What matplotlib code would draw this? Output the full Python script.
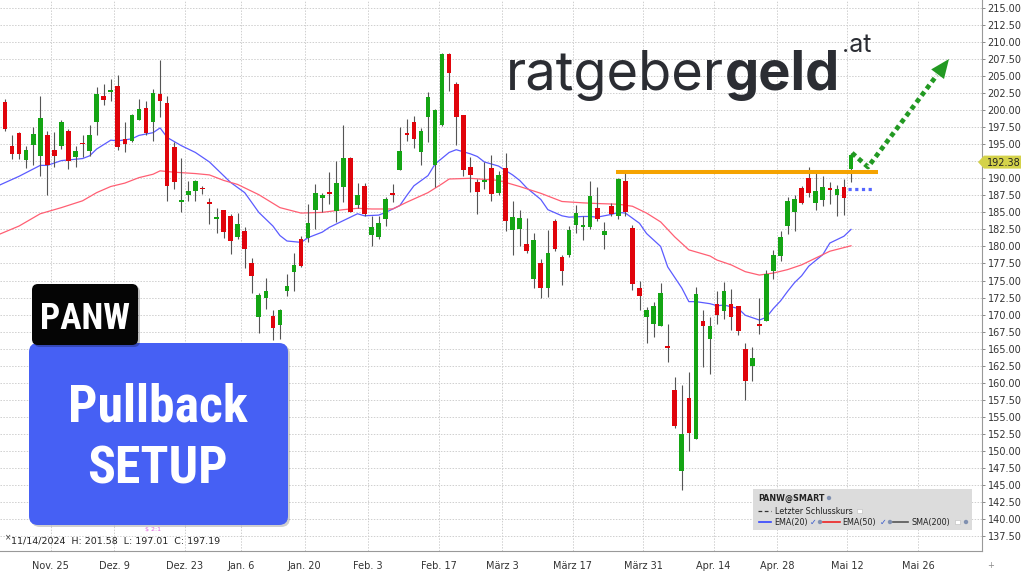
import numpy as np
import matplotlib
matplotlib.use('Agg')
import matplotlib.pyplot as plt
from matplotlib.patches import FancyBboxPatch, Polygon, Rectangle, Circle
from matplotlib import font_manager

opens = [201.2, 194.7, 196.6, 192.7, 194.9, 193.3, 196.4, 194.1, 194.7, 196.9,
         193.2, 195.2, 194.0, 198.3, 202.1, 202.7, 203.5, 195.8, 195.5, 198.6,
         200.3, 198.3, 202.4, 201.1, 194.6, 186.5, 187.5, 188.1, 188.6, 186.5,
         184.0, 185.4, 184.5, 181.4, 182.2, 177.6, 169.6, 172.5, 169.8, 168.5,
         173.5, 176.2, 181.1, 181.2, 185.3, 187.1, 188.0, 185.2, 188.8, 193.0,
         186.1, 188.9, 181.7, 181.4, 184.0, 187.8, 191.2, 196.6, 198.2, 193.8,
         199.0, 192.0, 197.8, 208.3, 203.9, 199.3, 191.7, 189.4, 189.4, 191.5,
         187.9, 191.5, 182.4, 182.6, 180.3, 175.2, 177.6, 173.9, 183.7, 178.5,
         178.8, 183.2, 182.9, 182.9, 185.6, 181.7, 186.0, 184.4, 189.6, 182.7,
         173.9, 169.6, 168.6, 168.3, 165.4, 159.0, 147.1, 157.7, 151.7, 169.0,
         166.4, 171.6, 170.5, 171.5, 171.2, 165.0, 162.5, 168.6, 169.1, 176.4,
         178.6, 183.0, 185.0, 188.6, 190.0, 186.4, 186.8, 188.6, 187.5, 188.8,
         191.3]
highs = [201.6, 196.3, 196.8, 194.7, 197.5, 202.1, 197.0, 196.8, 198.6, 197.3,
         194.7, 196.3, 197.9, 203.4, 203.9, 204.6, 205.2, 198.2, 199.5, 201.7,
         201.3, 203.1, 207.4, 202.1, 195.3, 193.0, 189.6, 189.7, 188.9, 187.1,
         185.6, 185.4, 184.8, 184.9, 182.8, 178.3, 173.2, 175.3, 170.7, 170.8,
         176.0, 179.0, 181.6, 186.2, 189.1, 187.8, 191.0, 192.6, 197.8, 193.1,
         189.3, 189.3, 184.5, 184.5, 187.2, 189.1, 197.6, 198.7, 199.2, 197.4,
         202.6, 200.2, 208.4, 208.4, 204.1, 199.3, 193.1, 189.9, 192.4, 193.4,
         191.1, 193.7, 186.6, 185.3, 184.2, 182.0, 178.1, 182.4, 184.0, 178.8,
         183.0, 186.1, 184.4, 189.6, 188.8, 183.6, 186.4, 190.0, 190.8, 183.2,
         174.9, 171.1, 171.9, 174.6, 168.6, 160.8, 159.7, 161.5, 174.1, 170.6,
         169.7, 173.4, 174.8, 173.7, 171.2, 165.9, 165.3, 172.5, 176.5, 179.5,
         182.2, 187.3, 187.6, 188.9, 191.7, 190.8, 190.3, 189.4, 189.0, 189.9,
         193.7]
lows = [197.0, 192.8, 192.8, 191.5, 191.9, 190.3, 187.6, 191.6, 194.3, 191.4,
        191.6, 193.2, 193.3, 196.3, 200.8, 201.3, 194.1, 193.9, 195.4, 198.5,
        196.3, 195.5, 199.0, 186.6, 188.4, 185.1, 186.6, 186.6, 187.7, 183.3,
        182.0, 181.3, 178.9, 181.1, 176.8, 173.1, 167.3, 170.8, 166.3, 166.4,
        172.8, 173.5, 177.0, 180.6, 182.6, 185.0, 186.3, 183.6, 186.5, 185.0,
        185.6, 184.5, 180.1, 181.1, 183.0, 186.5, 191.2, 195.5, 194.4, 191.9,
        195.3, 188.8, 197.7, 202.8, 194.9, 190.4, 188.0, 184.8, 188.4, 186.7,
        187.5, 182.2, 178.8, 180.0, 179.1, 173.9, 172.5, 172.6, 179.3, 174.3,
        178.5, 182.0, 180.9, 182.6, 183.8, 179.6, 184.4, 184.0, 184.4, 173.6,
        170.6, 165.8, 166.7, 168.3, 163.1, 153.3, 144.2, 150.0, 151.7, 162.3,
        161.3, 168.6, 169.4, 167.8, 167.0, 157.5, 160.2, 167.2, 169.0, 175.2,
        177.9, 181.9, 182.3, 186.3, 187.2, 185.4, 186.0, 186.3, 184.4, 184.6,
        189.4]
closes = [197.19, 193.6, 193.6, 194.1, 196.5, 198.9, 191.9, 193.3, 198.2, 192.5,
          194.0, 195.0, 196.4, 202.4, 201.5, 203.0, 194.6, 195.0, 199.3, 200.2,
          196.6, 202.5, 201.4, 188.9, 189.5, 186.8, 188.2, 189.6, 188.4, 186.3,
          184.3, 182.1, 180.8, 183.3, 179.6, 175.6, 172.9, 173.5, 168.0, 170.7,
          174.2, 177.3, 177.2, 183.5, 187.8, 187.5, 187.7, 189.3, 193.0, 185.1,
          187.5, 184.7, 182.8, 183.5, 187.0, 187.6, 194.0, 196.4, 195.7, 196.9,
          202.0, 200.1, 208.3, 205.4, 199.0, 191.2, 190.5, 188.0, 189.7, 187.7,
          190.5, 183.7, 184.3, 184.2, 179.3, 180.9, 173.9, 179.0, 179.6, 176.4,
          182.4, 184.9, 183.1, 187.4, 184.0, 182.3, 184.8, 189.9, 185.0, 174.5,
          172.7, 170.6, 171.3, 173.1, 165.1, 153.6, 152.5, 152.6, 173.0, 168.3,
          168.3, 169.9, 173.5, 169.7, 167.6, 160.2, 163.6, 168.3, 176.0, 178.8,
          181.4, 186.6, 187.0, 186.4, 187.9, 188.1, 188.8, 188.3, 188.5, 187.1,
          193.4]

# gleitende Durchschnitte (Index = Kerze)
ema20_idx = [-1, 2, 5, 6, 8, 11, 12, 13, 15, 16, 18, 19, 21, 22, 23, 25, 27, 29, 31, 32,
             34, 36, 38, 39, 40, 42, 43, 45, 46, 48, 49, 50, 51, 53, 54, 56, 57, 58, 60, 61,
             63, 64, 66, 67, 68, 70, 72, 73, 74, 76, 77, 79, 80, 82, 83, 84, 86, 87, 88, 90,
             91, 93, 94, 96, 97, 98, 100, 101, 102, 104, 105, 107, 108, 109, 110, 111, 112,
             113, 114, 116, 117, 119, 120]
ema20_val = [188.9, 190.3, 191.9, 191.9, 192.6, 192.9, 193.3, 194.3, 195.6, 195.5,
             195.8, 196.3, 196.7, 197.4, 196.0, 194.8, 193.8, 192.4, 190.4, 189.4,
             187.9, 185.0, 183.0, 181.6, 180.8, 180.6, 181.3, 182.1, 182.8, 183.8,
             184.3, 184.8, 184.5, 184.6, 185.0, 186.0, 187.5, 188.9, 190.4, 192.1,
             193.8, 194.2, 193.6, 193.2, 192.4, 191.8, 190.5, 189.7, 188.6, 186.9,
             185.4, 184.5, 184.3, 184.4, 184.4, 184.3, 184.7, 185.0, 184.9, 183.4,
             181.9, 180.0, 177.0, 173.9, 171.9, 171.9, 171.6, 171.3, 171.4, 170.9,
             169.9, 169.2, 169.6, 170.9, 172.0, 173.4, 174.7, 175.7, 177.1, 178.8,
             180.5, 181.5, 182.5]
ema50_idx = [-1, 2, 5, 8, 11, 13, 15, 17, 19, 21, 22, 24, 27, 29, 31, 33, 36, 39, 42, 45,
             48, 50, 52, 55, 57, 60, 62, 63, 66, 70, 73, 76, 79, 82, 84, 87, 89, 91, 93, 95,
             97, 100, 101, 103, 105, 107, 109, 111, 113, 115, 117, 120]
ema50_val = [181.7, 183.0, 184.8, 185.7, 186.7, 187.9, 188.8, 189.3, 190.1, 190.6,
             191.1, 190.9, 190.7, 190.5, 189.7, 189.1, 187.6, 185.7, 184.9, 185.0,
             185.4, 185.6, 185.5, 185.5, 186.5, 187.9, 189.2, 189.9, 190.0, 189.7,
             188.8, 187.8, 186.6, 186.4, 186.3, 186.2, 185.9, 184.9, 183.6, 181.4,
             179.5, 178.6, 178.0, 177.3, 176.3, 175.8, 176.1, 176.6, 177.3, 178.3,
             179.3, 180.1]

tick_idx = [7, 16, 26, 34, 43, 52, 62, 71, 81, 91, 101, 110, 120, 130]
tick_labels = ['Nov. 25', 'Dez. 9', 'Dez. 23', 'Jan. 6', 'Jan. 20', 'Feb. 3', 'Feb. 17',
               'März 3', 'März 17', 'März 31', 'Apr. 14', 'Apr. 28', 'Mai 12', 'Mai 26']

resistance = 191.0
stop_level = 188.4
last_close = 192.38

W, H = 1024, 575
fig = plt.figure(figsize=(W / 100, H / 100), dpi=100)
fig.patch.set_facecolor('white')

ax = fig.add_axes([0, 24 / H, 982 / W, 551 / H])
opens, highs, lows, closes = map(np.array, (opens, highs, lows, closes))
x = np.arange(len(closes))

green, red = '#14a514', '#e0040b'
colors = np.where(closes >= opens, green, red)

ax.vlines(x, lows, highs, color='#555555', lw=0.8, zorder=3)
body_bottom = np.minimum(opens, closes)
body_h = np.maximum(np.abs(closes - opens), 0.25)
ax.bar(x, body_h, bottom=body_bottom, width=0.66, color=colors, linewidth=0, zorder=4)

ax.plot(ema20_idx, ema20_val, color='#5b5bff', lw=0.9, zorder=2)
ax.plot(ema50_idx, ema50_val, color='#ff5f73', lw=0.9, zorder=2)

# Widerstand und Stopp-Linie
ax.plot([86.6, 123.8], [resistance, resistance], color='#f5a300', lw=2.9,
        solid_capstyle='butt', zorder=5)
ax.plot([119.6, 123.2], [stop_level, stop_level], color='#5566ff', lw=2.3,
        linestyle=(0, (1, 1.1)), zorder=5)

ax.set_xlim(-5 / 7.05, 977 / 7.05)
ax.set_ylim(215 - 543 / 6.813, 215 + 8 / 6.813)

price_ticks = np.arange(137.5, 215.01, 2.5)
ax.set_yticks(price_ticks)
ax.set_yticklabels([f'{v:.2f}' for v in price_ticks])
ax.set_xticks(np.array(tick_idx) - 0.5)
ax.set_xticklabels(tick_labels)
ax.yaxis.tick_right()
ax.grid(True, color='#cfcfcf', linestyle=(0, (1.5, 1.5)), linewidth=0.7)
ax.set_axisbelow(True)
ax.tick_params(axis='y', length=2.5, width=0.7, color='#888888', labelsize=7,
               labelcolor='#333333', pad=1.5)
ax.tick_params(axis='x', length=0, labelsize=7, labelcolor='#333333', pad=7)
for s in ['top', 'left']:
    ax.spines[s].set_visible(False)
for s in ['right', 'bottom']:
    ax.spines[s].set_color('#999999')
    ax.spines[s].set_linewidth(0.8)

# Overlay in Pixelkoordinaten
ov = fig.add_axes([0, 0, 1, 1])
ov.set_xlim(0, W)
ov.set_ylim(H, 0)
ov.axis('off')


def fit_width(txt, target, max_size):
    # Schriftgroesse so waehlen, dass die Breite ungefaehr passt
    fig.canvas.draw()
    w = txt.get_window_extent().width
    txt.set_fontsize(min(max_size, txt.get_fontsize() * target / w))


# Logo
logo_col = '#2b2d33'
logo_fs = 39
t1 = ov.text(506, 90, 'ratgeber', family='Inter', fontsize=logo_fs, color=logo_col,
             va='baseline', ha='left')
fig.canvas.draw()
bb = t1.get_window_extent()
t2 = ov.text(bb.x1 + 1, 90, 'geld', family='Inter', fontweight='bold', fontsize=logo_fs,
             color=logo_col, va='baseline', ha='left')
fig.canvas.draw()
bb2 = t2.get_window_extent()
ov.text(bb2.x1 + 2, 52, '.at', family='Inter', fontsize=18, color=logo_col,
        va='baseline', ha='left')

# Boxen links (schmale Schrift, falls vorhanden)
installed = {f.name for f in font_manager.fontManager.ttflist}
narrow = 'Roboto'
for cand in ['Liberation Sans Narrow', 'Roboto Condensed', 'Open Sans Condensed',
             'DejaVu Sans Condensed']:
    if cand in installed:
        narrow = cand
        break

ov.add_patch(FancyBboxPatch((31, 345), 259, 182, boxstyle='round,pad=0,rounding_size=9',
                            fc='#00000030', ec='none', zorder=1))
ov.add_patch(FancyBboxPatch((29, 343), 259, 182, boxstyle='round,pad=0,rounding_size=9',
                            fc='#4660f4', ec='none', zorder=2))
ov.add_patch(FancyBboxPatch((34, 286), 106, 61, boxstyle='round,pad=0,rounding_size=6',
                            fc='#00000040', ec='none', zorder=3))
ov.add_patch(FancyBboxPatch((32, 284), 106, 61, boxstyle='round,pad=0,rounding_size=6',
                            fc='#050505', ec='none', zorder=4))

t_panw = ov.text(85, 329, 'PANW', family=narrow, fontweight='bold', fontsize=28,
                 color='white', ha='center', va='baseline', zorder=5)
fit_width(t_panw, 90, 30)
t_pb = ov.text(158, 421, 'Pullback', family=narrow, fontweight='bold', fontsize=38,
               color='white', ha='center', va='baseline', zorder=5)
fit_width(t_pb, 180, 40)
ov.text(157, 484, 'SETUP', family=narrow, fontweight='bold', fontsize=t_pb.get_fontsize(),
        color='white', ha='center', va='baseline', zorder=5)

# gruener Pfeil
arr_col = '#229922'
px = [852, 868, 937]
py = [153, 167, 75]
ov.plot(px, py, color=arr_col, lw=3.4, linestyle=(0, (1, 0.8)), zorder=6)
tip = np.array([949.0, 59.0])
u = tip - np.array([px[1], py[1]])
u = u / np.hypot(*u)
n = np.array([-u[1], u[0]])
base = tip - 19 * u
ov.add_patch(Polygon([tip, base + 8 * n, base - 8 * n], closed=True, fc=arr_col,
                     ec='none', zorder=6))

# Kursmarke rechts
yd = ax.transData.transform((0, last_close))[1]
ytag = H - yd
ov.add_patch(Polygon([(978, ytag), (984, ytag - 6.5), (1021, ytag - 6.5),
                      (1021, ytag + 6.5), (984, ytag + 6.5)], closed=True,
                     fc='#d4d24a', ec='none', zorder=6))
ov.text(987, ytag + 0.5, f'{last_close:.2f}', fontsize=7, color='#222222', va='center',
        ha='left', zorder=7)

# Info-Zeile und Split-Marke
ov.text(5, 538, '\u00d7', fontsize=5.5, color='#333333', va='center', ha='left')
ov.text(11, 541, '11/14/2024  H: 201.58  L: 197.01  C: 197.19', fontsize=6.8,
        color='#222222', va='center', ha='left')
ov.text(153, 529, '$ 2:1', fontsize=4.5, color='#dd66dd', va='center', ha='center')
ov.text(991, 566, '+', fontsize=6, color='#888888', va='center', ha='center')

# Legendenkasten
ov.add_patch(Rectangle((753, 489), 219, 41, fc='#dcdcdc', ec='none', zorder=6))
fs = 5.8
ov.text(758, 498, 'PANW@SMART', fontsize=fs, fontweight='bold', color='#222222',
        va='center', ha='left', zorder=7)
ov.add_patch(Circle((829, 498), 2.2, fc='#8090b0', ec='none', zorder=7))
ov.plot([758, 771], [511, 511], color='#333333', lw=0.9, linestyle=(0, (3, 2)), zorder=7)
ov.text(775, 511, 'Letzter Schlusskurs', fontsize=fs, color='#222222', va='center',
        ha='left', zorder=7)
ov.add_patch(Rectangle((857, 508.5), 4.5, 4.5, fc='white', ec='#bbbbbb', lw=0.4, zorder=7))
ry = 522
ov.plot([759, 771], [ry, ry], color='#3344ff', lw=1.2, zorder=7)
ov.text(774, ry, 'EMA(20)', fontsize=fs, color='#222222', va='center', ha='left', zorder=7)
ov.text(813, ry, '\u2713', fontsize=fs, color='#3355cc', va='center', ha='center', zorder=7)
ov.add_patch(Circle((820, ry), 2.2, fc='#8090b0', ec='none', zorder=7))
ov.plot([823, 840], [ry, ry], color='#ee2222', lw=1.2, zorder=7)
ov.text(842, ry, 'EMA(50)', fontsize=fs, color='#222222', va='center', ha='left', zorder=7)
ov.text(883, ry, '\u2713', fontsize=fs, color='#3355cc', va='center', ha='center', zorder=7)
ov.add_patch(Circle((890, ry), 2.2, fc='#8090b0', ec='none', zorder=7))
ov.plot([893, 908], [ry, ry], color='#555555', lw=1.2, zorder=7)
ov.text(911, ry, 'SMA(200)', fontsize=fs, color='#222222', va='center', ha='left', zorder=7)
ov.add_patch(Rectangle((955, ry - 2.3), 4.5, 4.5, fc='white', ec='#bbbbbb', lw=0.4, zorder=7))
ov.add_patch(Circle((966, ry), 2.2, fc='#8090b0', ec='none', zorder=7))

fig.savefig('out.png', dpi=100)
